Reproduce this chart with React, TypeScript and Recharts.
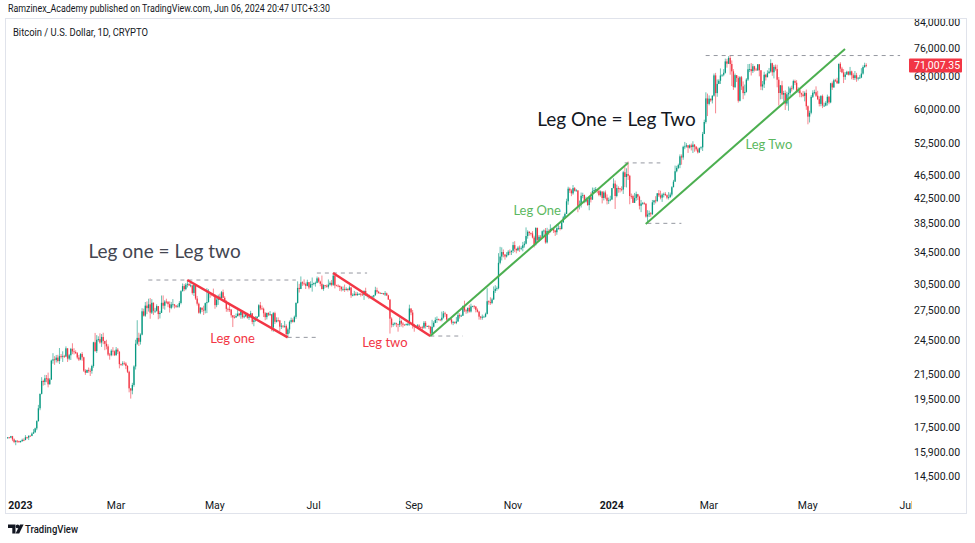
import React from 'react';
import { ComposedChart, Bar, XAxis, YAxis, ReferenceLine, ReferenceDot } from 'recharts';

// ---------- categories ----------
const FIRST_CATEGORY = '2022-12-23';
const CATEGORY_COUNT = 558; // daily slots through 2024-07-02
const FIRST_CANDLE_OFFSET = 1; // first candle on 2022-12-24
const OPEN_BEFORE_FIRST_K = 16.78; // close of 2022-12-23 (k USD)

// ---------- daily series, thousands of USD ----------
const closeK = [
  // Dec 2022 (24-31)
  16.84, 16.83, 16.92, 16.71, 16.55, 16.63, 16.60, 16.54,
  // Jan 2023
  16.61, 16.68, 16.67, 16.85, 16.83, 16.95, 16.94, 17.09, 17.18, 17.44, 17.94, 18.85, 19.93, 20.95, 20.87, 21.17, 21.16, 20.68, 21.07, 22.67, 22.78, 22.71, 22.93, 22.63, 23.06, 23.01, 23.08, 23.03, 23.77, 22.84, 23.14,
  // Feb 2023
  23.72, 23.49, 23.43, 23.33, 22.94, 22.76, 23.26, 22.96, 21.80, 21.63, 21.86, 21.79, 21.78, 22.20, 24.33, 23.52, 24.57, 24.63, 24.31, 24.84, 24.45, 24.19, 23.95, 23.20, 23.15, 23.55, 23.49, 23.15,
  // Mar 2023
  23.65, 23.47, 22.36, 22.35, 22.43, 22.41, 22.20, 21.71, 20.36, 20.19, 20.63, 22.16, 24.20, 24.75, 24.38, 25.06, 27.43, 26.97, 28.04, 27.77, 28.18, 27.29, 28.35, 27.48, 27.49, 27.99, 27.14, 27.27, 28.35, 28.03, 28.48,
  // Apr 2023
  28.46, 28.20, 27.80, 28.17, 28.18, 28.04, 27.92, 27.95, 28.33, 29.65, 30.24, 29.89, 30.40, 30.49, 30.32, 30.32, 29.45, 30.40, 28.82, 28.25, 27.28, 27.82, 27.59, 27.52, 28.31, 28.42, 29.48, 29.34, 29.25, 29.23,
  // May 2023
  28.09, 28.68, 29.03, 28.85, 29.53, 28.90, 28.45, 27.69, 27.65, 27.62, 27.01, 26.80, 26.78, 26.93, 27.19, 27.03, 27.40, 26.83, 26.89, 27.11, 26.75, 26.85, 27.22, 26.33, 26.48, 26.72, 26.87, 28.08, 27.74, 27.70, 27.22,
  // Jun 2023
  26.82, 27.25, 27.07, 27.12, 25.76, 27.24, 26.34, 26.50, 26.48, 25.85, 25.94, 25.90, 25.92, 25.12, 25.58, 26.33, 26.51, 26.34, 26.85, 28.33, 30.03, 29.91, 30.69, 30.55, 30.48, 30.27, 30.70, 30.08, 30.45, 30.48,
  // Jul 2023
  30.59, 30.62, 31.16, 30.77, 30.51, 29.90, 30.35, 30.29, 30.17, 30.41, 30.62, 30.39, 31.48, 30.32, 30.29, 30.25, 30.14, 29.86, 29.91, 29.80, 29.91, 29.79, 30.08, 29.18, 29.23, 29.35, 29.21, 29.32, 29.35, 29.28, 29.23,
  // Aug 2023
  29.68, 29.18, 29.18, 29.07, 29.04, 29.04, 29.18, 29.77, 29.58, 29.45, 29.40, 29.42, 29.28, 29.41, 29.17, 28.70, 26.66, 26.05, 26.10, 26.19, 26.12, 26.04, 26.43, 26.16, 26.05, 26.01, 26.09, 26.10, 27.73, 27.30, 25.94,
  // Sep 2023
  25.80, 25.87, 25.97, 25.81, 25.78, 25.75, 26.24, 25.90, 25.90, 25.84, 25.16, 25.84, 26.23, 26.53, 26.61, 26.57, 26.53, 26.76, 27.21, 27.13, 26.57, 26.58, 26.58, 26.26, 26.30, 26.22, 26.37, 27.03, 26.91, 26.97,
  // Oct 2023
  27.99, 27.53, 27.43, 27.80, 27.41, 27.95, 27.97, 27.93, 27.59, 27.39, 26.87, 26.76, 26.86, 26.86, 27.16, 28.52, 28.42, 28.33, 28.72, 29.68, 29.92, 29.99, 33.09, 33.90, 34.50, 34.16, 33.91, 34.09, 34.54, 34.50, 34.67,
  // Nov 2023
  35.44, 34.94, 34.73, 35.08, 35.05, 35.05, 35.42, 35.63, 36.70, 37.31, 37.13, 37.07, 36.49, 35.55, 37.86, 36.16, 36.60, 36.58, 37.39, 37.48, 35.81, 37.43, 37.29, 37.72, 37.80, 37.48, 37.25, 37.83, 37.86, 37.72,
  // Dec 2023
  38.69, 39.46, 39.98, 41.98, 44.08, 43.77, 43.29, 44.17, 43.72, 43.79, 41.24, 41.45, 42.89, 43.02, 41.94, 42.28, 41.37, 42.66, 42.26, 43.66, 43.86, 43.98, 43.72, 43.01, 43.60, 42.52, 43.44, 42.58, 42.07, 42.14, 42.28,
  // Jan 2024
  44.18, 44.96, 42.85, 44.18, 44.16, 43.97, 43.93, 46.97, 46.12, 46.65, 46.34, 42.85, 42.84, 41.73, 42.51, 43.15, 42.74, 41.26, 41.62, 41.66, 41.58, 39.57, 39.89, 40.08, 39.94, 41.82, 42.12, 42.03, 43.30, 42.95, 42.58,
  // Feb 2024
  43.08, 43.20, 42.99, 42.58, 42.66, 43.09, 44.33, 45.30, 47.15, 47.77, 48.29, 49.96, 49.74, 51.83, 51.90, 52.13, 51.66, 52.12, 51.78, 52.26, 51.85, 51.32, 50.73, 51.57, 51.73, 54.48, 57.05, 62.50, 61.20,
  // Mar 2024
  62.44, 62.03, 63.17, 68.33, 63.80, 66.11, 66.93, 68.30, 68.50, 69.02, 72.12, 71.48, 73.10, 71.40, 69.40, 65.30, 68.39, 67.61, 61.93, 67.84, 65.50, 63.80, 64.10, 67.23, 69.96, 69.99, 69.46, 70.78, 69.89, 69.65, 71.33,
  // Apr 2024
  69.70, 65.45, 65.98, 68.50, 67.84, 68.90, 69.36, 71.62, 69.15, 70.63, 70.01, 67.19, 63.82, 65.74, 63.42, 63.81, 61.28, 63.51, 63.84, 64.99, 64.94, 66.84, 66.41, 64.29, 64.50, 63.77, 63.46, 63.12, 63.84, 60.64,
  // May 2024
  58.25, 59.12, 62.89, 63.89, 64.03, 63.16, 62.33, 61.19, 63.07, 60.79, 60.79, 61.45, 62.90, 61.55, 66.27, 65.23, 67.05, 66.94, 66.28, 71.45, 70.14, 69.12, 67.93, 68.54, 69.28, 68.51, 69.40, 68.37, 67.63, 68.36, 67.49,
  // Jun 2024 (1-6)
  67.71, 67.75, 68.80, 70.57, 71.08, 71.00735,
];

const highK = [
  16.87, 16.87, 16.94, 16.94, 16.78, 16.66, 16.65, 16.63,
  16.63, 16.76, 16.78, 16.99, 16.88, 16.97, 16.97, 17.17, 17.39, 17.49, 17.99, 19.10, 19.96, 21.26, 21.05, 21.45, 21.44, 21.64, 21.19, 22.75, 23.33, 23.06, 23.17, 23.18, 23.80, 23.25, 23.50, 23.18, 23.95, 23.78, 23.26,
  23.81, 24.24, 23.78, 23.59, 23.43, 23.16, 23.33, 23.43, 23.01, 21.93, 21.90, 22.07, 21.99, 22.31, 24.38, 25.23, 25.02, 24.90, 25.19, 25.12, 25.25, 24.48, 24.57, 24.14, 23.35, 23.68, 23.88, 23.58,
  23.89, 23.79, 23.48, 22.41, 22.61, 22.60, 22.53, 22.27, 21.80, 20.30, 20.80, 22.26, 24.57, 26.50, 25.25, 25.19, 27.76, 27.72, 28.43, 28.50, 28.80, 28.87, 28.75, 28.39, 27.80, 28.18, 28.00, 27.48, 29.16, 29.17, 28.64,
  28.80, 28.53, 28.50, 28.44, 28.76, 28.20, 28.10, 28.18, 28.53, 29.76, 30.55, 30.47, 30.60, 30.96, 30.60, 30.58, 30.35, 30.48, 30.40, 29.11, 28.37, 27.87, 27.82, 28.03, 28.37, 30.00, 29.88, 29.55, 29.45, 29.95,
  29.26, 28.88, 29.26, 29.37, 29.68, 29.84, 29.08, 28.62, 27.83, 28.33, 27.64, 26.98, 27.03, 27.20, 27.66, 27.26, 27.47, 27.49, 27.13, 27.16, 27.27, 27.04, 27.48, 27.21, 26.60, 26.92, 26.91, 28.19, 28.44, 28.05, 27.83,
  27.35, 27.30, 27.33, 27.45, 27.13, 27.36, 27.39, 26.80, 26.79, 26.53, 26.21, 26.00, 26.43, 26.08, 25.75, 26.47, 26.77, 26.69, 26.98, 28.40, 30.80, 30.50, 31.39, 30.80, 31.04, 30.65, 31.00, 30.72, 30.81, 31.26,
  30.66, 30.77, 31.38, 31.33, 30.88, 31.50, 30.45, 30.38, 30.43, 31.03, 30.80, 30.97, 31.80, 31.63, 30.40, 30.45, 30.34, 30.23, 30.20, 30.42, 30.10, 29.99, 30.33, 30.11, 29.40, 29.69, 29.57, 29.53, 29.41, 29.45, 29.52,
  29.74, 30.05, 29.41, 29.30, 29.11, 29.15, 29.23, 30.16, 30.06, 29.69, 29.53, 29.47, 29.45, 29.66, 29.49, 29.24, 28.78, 26.80, 26.26, 26.30, 26.25, 26.14, 26.80, 26.56, 26.30, 26.10, 26.17, 26.23, 28.14, 27.75, 27.57,
  26.13, 25.99, 26.10, 26.10, 25.87, 25.94, 26.42, 26.42, 25.95, 26.02, 25.90, 26.54, 26.40, 26.80, 26.89, 26.67, 26.64, 27.40, 27.46, 27.38, 27.16, 26.72, 26.65, 26.72, 26.43, 26.38, 26.82, 27.30, 27.22, 27.08,
  28.05, 28.58, 27.67, 27.83, 28.12, 28.25, 28.03, 28.10, 27.99, 27.74, 27.48, 26.94, 27.09, 26.97, 27.29, 30.00, 28.62, 28.96, 28.90, 30.20, 30.35, 30.20, 34.35, 35.20, 35.13, 34.84, 34.24, 34.48, 34.75, 34.85, 34.72,
  35.88, 35.98, 34.95, 35.28, 35.38, 35.28, 35.88, 35.98, 37.95, 37.53, 37.40, 37.22, 37.40, 36.75, 37.98, 37.94, 36.85, 36.84, 37.50, 37.65, 37.85, 37.89, 37.66, 38.40, 37.90, 37.84, 37.56, 38.38, 38.42, 38.17,
  38.96, 39.68, 40.20, 42.40, 44.41, 44.29, 44.00, 44.70, 44.36, 44.03, 43.79, 42.10, 43.43, 43.40, 43.09, 42.73, 42.43, 42.73, 43.48, 44.28, 44.24, 44.37, 44.00, 43.94, 43.79, 43.62, 43.70, 43.78, 43.11, 42.59, 42.89,
  44.19, 45.88, 45.50, 44.77, 44.49, 44.21, 44.48, 47.23, 47.90, 47.70, 48.97, 46.50, 43.26, 43.07, 43.36, 43.58, 43.20, 42.91, 42.20, 41.87, 41.89, 41.68, 40.56, 40.50, 40.27, 42.20, 42.21, 42.82, 43.33, 43.85, 43.74,
  43.30, 43.42, 43.50, 43.12, 43.50, 43.42, 44.51, 45.61, 48.20, 48.15, 48.56, 50.33, 50.33, 52.05, 52.82, 52.57, 52.20, 52.35, 52.49, 52.96, 52.38, 52.00, 51.68, 51.70, 51.94, 54.90, 57.57, 64.00, 63.68,
  63.23, 62.43, 63.23, 68.83, 69.00, 67.26, 67.33, 70.19, 68.60, 70.00, 72.90, 72.83, 73.60, 73.78, 72.40, 70.00, 68.80, 68.24, 68.08, 68.12, 68.18, 66.75, 65.95, 67.60, 71.39, 71.43, 71.67, 71.42, 70.90, 70.35, 71.36,
  71.36, 69.70, 66.87, 69.30, 68.73, 69.68, 70.32, 72.72, 71.75, 71.16, 71.26, 71.20, 67.90, 65.83, 66.90, 64.36, 64.47, 64.13, 65.45, 65.42, 65.68, 67.20, 67.21, 67.07, 65.24, 64.80, 63.92, 64.34, 64.22, 64.69,
  60.83, 59.60, 63.32, 64.50, 64.64, 65.49, 64.38, 62.99, 63.31, 63.45, 61.48, 61.85, 63.43, 63.10, 66.40, 66.73, 67.44, 67.40, 67.69, 71.50, 71.90, 70.62, 70.00, 69.20, 69.56, 69.50, 70.60, 69.60, 68.88, 69.50, 69.00,
  67.85, 68.45, 70.26, 71.05, 71.76, 71.60,
];

const lowK = [
  16.78, 16.79, 16.79, 16.60, 16.47, 16.34, 16.50, 16.49,
  16.50, 16.55, 16.60, 16.66, 16.75, 16.67, 16.90, 16.92, 17.08, 17.14, 17.32, 17.90, 18.71, 19.89, 20.58, 20.62, 20.85, 20.44, 20.66, 21.03, 22.40, 22.30, 22.50, 22.50, 22.37, 22.85, 22.55, 22.90, 22.98, 22.55, 22.70,
  22.72, 23.24, 23.21, 23.26, 22.79, 22.63, 22.70, 22.66, 21.69, 21.45, 21.61, 21.63, 21.36, 21.55, 22.05, 23.46, 23.35, 24.40, 24.20, 23.90, 24.15, 23.60, 23.68, 23.07, 22.75, 23.05, 23.11, 23.07,
  23.10, 23.26, 22.00, 22.21, 22.22, 22.27, 21.93, 21.60, 20.05, 19.57, 19.90, 20.49, 21.90, 24.09, 23.98, 24.12, 25.00, 26.88, 26.85, 27.13, 27.40, 26.65, 27.15, 27.05, 27.25, 27.40, 26.60, 26.68, 27.26, 27.70, 27.60,
  28.26, 27.87, 27.30, 27.66, 27.84, 27.73, 27.80, 27.88, 27.82, 28.18, 29.62, 29.65, 29.76, 30.08, 30.25, 30.10, 29.26, 29.10, 28.67, 28.05, 27.18, 27.13, 27.36, 27.04, 27.21, 27.24, 28.38, 28.90, 29.08, 29.00,
  27.70, 27.87, 28.12, 28.70, 28.81, 28.86, 28.40, 27.38, 27.38, 27.37, 26.77, 25.81, 26.69, 26.77, 26.89, 26.88, 26.65, 26.67, 26.70, 26.85, 26.66, 26.53, 26.82, 26.09, 25.89, 26.35, 26.60, 26.85, 27.55, 27.56, 26.83,
  26.50, 26.58, 26.93, 26.95, 25.40, 25.35, 26.12, 26.27, 26.30, 25.40, 25.62, 25.73, 25.74, 24.95, 24.80, 25.18, 26.16, 26.26, 26.27, 26.65, 28.26, 29.50, 29.89, 30.27, 30.32, 29.90, 30.22, 29.88, 30.04, 29.60,
  30.33, 30.18, 30.58, 30.63, 30.22, 29.85, 29.70, 30.05, 30.06, 29.95, 30.30, 30.21, 30.26, 29.97, 30.25, 30.10, 29.67, 29.62, 29.66, 29.56, 29.72, 29.62, 29.72, 28.90, 29.07, 29.10, 29.11, 29.12, 29.26, 29.04, 29.12,
  28.67, 29.10, 28.94, 28.76, 28.97, 28.95, 28.70, 29.15, 29.37, 29.35, 29.36, 29.36, 29.28, 29.10, 29.10, 28.70, 25.17, 25.77, 25.84, 25.98, 25.80, 25.35, 25.81, 25.86, 25.77, 25.96, 25.97, 25.92, 25.95, 27.02, 25.66,
  25.35, 25.72, 25.80, 25.63, 25.58, 25.39, 25.63, 25.66, 25.82, 25.60, 24.90, 25.13, 25.77, 26.20, 26.23, 26.47, 26.40, 26.39, 26.66, 26.85, 26.38, 26.50, 26.53, 26.08, 26.00, 26.12, 26.10, 26.34, 26.67, 26.86,
  26.95, 27.35, 27.17, 27.22, 27.30, 27.30, 27.88, 27.70, 27.32, 27.31, 26.56, 26.55, 26.55, 26.80, 26.79, 27.10, 28.14, 28.12, 28.20, 28.65, 29.45, 29.70, 29.87, 32.90, 33.40, 33.80, 33.50, 33.77, 34.05, 34.10, 34.10,
  34.36, 34.50, 34.33, 34.61, 34.52, 34.75, 34.60, 35.10, 35.55, 36.33, 36.76, 36.77, 36.37, 35.12, 35.38, 35.90, 35.90, 36.22, 36.40, 36.75, 35.63, 35.66, 36.86, 37.20, 37.55, 37.14, 36.72, 36.88, 37.60, 37.51,
  37.63, 38.65, 39.23, 39.97, 41.42, 43.36, 42.82, 43.06, 43.59, 43.57, 40.24, 40.68, 40.98, 42.48, 41.67, 41.77, 41.26, 40.55, 41.80, 42.21, 43.32, 43.41, 43.30, 42.80, 42.75, 41.64, 42.13, 42.31, 41.48, 41.55, 41.98,
  42.18, 44.15, 40.75, 42.63, 43.40, 43.44, 43.62, 43.19, 44.35, 44.29, 45.60, 41.50, 42.40, 41.72, 41.75, 42.05, 42.18, 40.68, 40.26, 41.45, 41.44, 39.42, 38.55, 39.50, 39.55, 39.83, 41.40, 41.65, 41.85, 42.68, 42.30,
  41.88, 42.62, 42.87, 42.31, 42.27, 42.56, 42.80, 44.33, 45.25, 46.96, 47.55, 47.72, 48.37, 49.30, 51.35, 51.66, 50.62, 51.47, 51.10, 50.60, 50.85, 50.95, 50.50, 50.60, 51.28, 51.00, 54.45, 56.70, 58.38,
  60.85, 61.68, 61.30, 62.93, 59.00, 62.90, 66.06, 66.10, 67.93, 68.10, 68.80, 70.40, 71.39, 68.51, 65.58, 64.59, 65.05, 66.59, 61.50, 61.77, 64.58, 62.33, 63.23, 63.90, 66.85, 69.20, 68.30, 68.95, 69.37, 69.60, 69.60,
  68.08, 64.55, 64.50, 65.07, 66.98, 68.20, 68.78, 69.03, 68.21, 67.53, 69.57, 65.25, 60.81, 62.28, 62.33, 61.68, 59.77, 60.77, 59.60, 63.15, 64.20, 64.60, 65.80, 63.85, 63.80, 62.80, 62.79, 62.80, 61.80, 59.80,
  56.55, 56.95, 58.78, 62.60, 63.50, 62.85, 62.10, 60.60, 60.63, 60.20, 60.50, 60.63, 60.80, 61.11, 61.35, 64.60, 65.10, 66.60, 66.10, 66.10, 69.23, 68.90, 66.33, 67.17, 68.50, 68.30, 68.30, 67.30, 67.12, 67.10, 66.65,
  67.00, 67.40, 67.60, 68.52, 70.35, 70.50,
];

// ---------- axis ticks ----------
const xTickDates = ['2023-01-01', '2023-03-01', '2023-05-01', '2023-07-01', '2023-09-01', '2023-11-01', '2024-01-01', '2024-03-01', '2024-05-01', '2024-07-01'];
const xTickLabels = ['2023', 'Mar', 'May', 'Jul', 'Sep', 'Nov', '2024', 'Mar', 'May', 'Jul'];
const yTicks = [14500, 15900, 17500, 19500, 21500, 24500, 27500, 30500, 34500, 38500, 42500, 46500, 52500, 60000, 68000, 76000, 84000];
const Y_DOMAIN = [13478, 85310];

// ---------- drawings ----------
const trendLines = [
  { x1: '2023-04-14', y1: 30960, x2: '2023-06-15', y2: 24800, color: '#f23645', w: 2.5 },
  { x1: '2023-07-13', y1: 31810, x2: '2023-09-11', y2: 24930, color: '#f23645', w: 2.5 },
  { x1: '2023-09-11', y1: 24930, x2: '2024-01-11', y2: 48700, color: '#4caf50', w: 2 },
  { x1: '2024-01-22', y1: 38450, x2: '2024-05-24', y2: 75670, color: '#4caf50', w: 2 },
];
const levelLines = [
  { x1: '2023-03-21', x2: '2023-06-20', y: 30960 },
  { x1: '2023-07-03', x2: '2023-08-03', y: 31810 },
  { x1: '2023-06-15', x2: '2023-07-03', y: 24800 },
  { x1: '2023-09-11', x2: '2023-10-01', y: 24930 },
  { x1: '2024-01-09', x2: '2024-01-31', y: 48700 },
  { x1: '2024-01-23', x2: '2024-02-13', y: 38550 },
  { x1: '2024-02-28', x2: '2024-06-27', y: 73780 },
];
const notes = [
  { x: '2023-03-31', y: 34640, text: 'Leg one = Leg two', color: '#434651', size: 19 },
  { x: '2023-05-12', y: 24650, text: 'Leg one', color: '#f23645', size: 13 },
  { x: '2023-08-14', y: 24360, text: 'Leg two', color: '#f23645', size: 13 },
  { x: '2023-11-16', y: 40590, text: 'Leg One', color: '#5cb85f', size: 13 },
  { x: '2024-01-04', y: 57720, text: 'Leg One = Leg Two', color: '#131722', size: 19 },
  { x: '2024-04-07', y: 52400, text: 'Leg Two', color: '#5cb85f', size: 13 },
];

const UP = '#089981';
const DOWN = '#f23645';
const AXIS_FONT = 'Roboto, "Noto Sans", sans-serif';
const CHART_W = 962;
const CHART_H = 496;
const Y_AXIS_W = 58;
const X_AXIS_H = 19;
const PLOT_RIGHT = CHART_W - Y_AXIS_W;

// ---------- build rows ----------
const addDays = (iso: string, n: number) => {
  const d = new Date(iso + 'T00:00:00Z');
  d.setUTCDate(d.getUTCDate() + n);
  return d.toISOString().slice(0, 10);
};

const rows = Array.from({ length: CATEGORY_COUNT }, (_, i) => {
  const date = addDays(FIRST_CATEGORY, i);
  const k = i - FIRST_CANDLE_OFFSET;
  if (k < 0 || k >= closeK.length) return { date } as any;
  const o = (k === 0 ? OPEN_BEFORE_FIRST_K : closeK[k - 1]) * 1000;
  const c = closeK[k] * 1000;
  const h = Math.max(highK[k] * 1000, o, c);
  const l = Math.min(lowK[k] * 1000, o, c);
  return { date, o, c, h, l, range: [l, h] };
});

const LAST_PRICE = closeK[closeK.length - 1] * 1000;
const fmt = (v: number) => v.toLocaleString('en-US', { minimumFractionDigits: 2, maximumFractionDigits: 2 });

// ---------- shapes ----------
const Candle = (props: any) => {
  const { x, y, width, height, payload } = props;
  if (!payload || payload.c == null || !isFinite(y) || !isFinite(height)) return null;
  const { o, c, h, l } = payload;
  const lh = Math.log(h);
  const span = lh - Math.log(l) || 1;
  const py = (v: number) => y + (height * (lh - Math.log(v))) / span;
  const cx = x + width / 2;
  const color = c >= o ? UP : DOWN;
  const top = py(Math.max(o, c));
  const bot = py(Math.min(o, c));
  return (
    <g>
      <line x1={cx} x2={cx} y1={y} y2={y + height} stroke={color} strokeOpacity={0.6} strokeWidth={1} />
      <rect x={cx - 0.65} y={top} width={1.3} height={Math.max(bot - top, 0.8)} fill={color} />
    </g>
  );
};

const YTick = (props: any) => {
  const { x, y, payload } = props;
  const v = payload.value;
  const isLast = Math.abs(v - LAST_PRICE) < 0.01;
  if (isLast) {
    return (
      <g>
        <rect x={x - 5} y={y - 7} width={53} height={14} fill={DOWN} rx={1} />
        <text x={x} y={y} dy="0.35em" textAnchor="start" fontFamily={AXIS_FONT} fontSize={10.5} fill="#ffffff">{fmt(v)}</text>
      </g>
    );
  }
  return (
    <text x={x} y={y} dy="0.35em" textAnchor="start" fontFamily={AXIS_FONT} fontSize={10.5} fill="#131722">{fmt(v)}</text>
  );
};

const XTick = (props: any) => {
  const { x, y, payload } = props;
  const i = xTickDates.indexOf(payload.value);
  const label = xTickLabels[i] ?? '';
  const isYear = /^\d{4}$/.test(label);
  const id = `xclip${i}`;
  return (
    <g>
      <defs>
        <clipPath id={id}>
          <rect x={0} y={y - 10} width={PLOT_RIGHT + 3} height={40} />
        </clipPath>
      </defs>
      <text x={x} y={y + 10} dy="0.35em" textAnchor="middle" fontFamily={AXIS_FONT} fontSize={10.5} fontWeight={isYear ? 700 : 400} fill="#131722" clipPath={`url(#${id})`}>{label}</text>
    </g>
  );
};

export default function App() {
  return (
    <div style={{ position: 'absolute', left: 0, top: 0, width: 975, height: 543, background: '#ffffff', overflow: 'hidden' }}>
      <div style={{ position: 'absolute', left: 5, top: 18, width: CHART_W, height: CHART_H }}>
        <ComposedChart width={CHART_W} height={CHART_H} data={rows} margin={{ top: 0, right: 0, bottom: 0, left: 0 }} barCategoryGap={0}>
          <XAxis dataKey="date" ticks={xTickDates} interval={0} axisLine={false} tickLine={false} tickSize={0} tickMargin={0} height={X_AXIS_H} tick={<XTick />} />
          <YAxis orientation="right" type="number" scale="log" domain={Y_DOMAIN} allowDataOverflow ticks={[...yTicks, LAST_PRICE]} interval={0} width={Y_AXIS_W} axisLine={false} tickLine={false} tickSize={3} tickMargin={2} tick={<YTick />} />
          <Bar dataKey="range" shape={Candle} isAnimationActive={false} />
          {levelLines.map((l, i) => (
            <ReferenceLine key={`lv${i}`} segment={[{ x: l.x1, y: l.y }, { x: l.x2, y: l.y }]} stroke="#9598a1" strokeWidth={1} strokeDasharray="4 4" ifOverflow="visible" />
          ))}
          {trendLines.map((t, i) => (
            <ReferenceLine key={`tl${i}`} segment={[{ x: t.x1, y: t.y1 }, { x: t.x2, y: t.y2 }]} stroke={t.color} strokeWidth={t.w} ifOverflow="visible" />
          ))}
          {notes.map((n, i) => (
            <ReferenceDot key={`nt${i}`} x={n.x} y={n.y} r={0} ifOverflow="visible"
              shape={(p: any) => (
                <text x={p.cx} y={p.cy} dy="0.35em" textAnchor="middle" fontFamily="Lato, 'Open Sans', sans-serif" fontSize={n.size} fill={n.color}>{n.text}</text>
              )}
            />
          ))}
        </ComposedChart>
      </div>
      <svg width={975} height={543} style={{ position: 'absolute', left: 0, top: 0, pointerEvents: 'none' }}>
        <text x={8} y={12} fontFamily={AXIS_FONT} fontSize={10} fill="#131722" textLength={322} lengthAdjust="spacingAndGlyphs">Ramzinex_Academy published on TradingView.com, Jun 06, 2024 20:47 UTC+3:30</text>
        <rect x={5.5} y={18.5} width={961} height={495} fill="none" stroke="#e0e3eb" strokeWidth={1} />
        <text x={13} y={35.5} fontFamily={AXIS_FONT} fontSize={10} fill="#131722" textLength={135} lengthAdjust="spacingAndGlyphs">Bitcoin / U.S. Dollar, 1D, CRYPTO</text>
        <g fill="#131722">
          <path d="M8 524.5h7.5v9h-3.2v-5.6H8z" />
          <circle cx={17.6} cy={526.4} r={1.9} />
          <path d="M20 524.5h3.6l-4.4 9h-3.6z" />
        </g>
        <text x={25} y={532.5} fontFamily={AXIS_FONT} fontSize={10.5} fontWeight={500} fill="#131722" textLength={53} lengthAdjust="spacingAndGlyphs">TradingView</text>
      </svg>
    </div>
  );
}
